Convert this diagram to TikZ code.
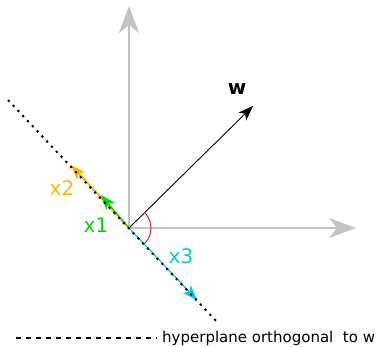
\documentclass[tikz,border=0pt]{standalone}
\usepackage{fontspec}
\setmainfont{DejaVu Sans}
\usetikzlibrary{arrows.meta}
\definecolor{axisgray}{RGB}{195,195,195}
\definecolor{xorange}{RGB}{250,185,0}
\definecolor{xgreen}{RGB}{0,215,0}
\definecolor{xcyan}{RGB}{0,200,230}
\definecolor{arcred}{RGB}{210,40,40}
\tikzset{
  axis/.style={draw=axisgray,fill=axisgray!80!gray,line width=2pt,-{Stealth[length=27pt,width=20pt,inset=8pt]}},
  hyper/.style={draw=black,line width=2pt,dash pattern=on 2.2pt off 4.8pt},
  vec/.style={-{Stealth[length=15pt,width=11pt,inset=4pt]}},
  lbl/.style={inner sep=0pt,font=\fontsize{20}{20}\selectfont}
}
\begin{document}
\begin{tikzpicture}[x=1pt,y=-1pt]
\useasboundingbox (0,0) rectangle (378,347);
\coordinate (O) at (129,228);
\coordinate (ytop) at (129,6);
\coordinate (xend) at (356,228);
\coordinate (wend) at (253,106);
\coordinate (hA) at (8,100);
\coordinate (hB) at (218,323);
\coordinate (x1e) at (101,195);
\coordinate (x2e) at (71,165);
\coordinate (x3e) at (197,300);
\draw[axis] (O) -- (ytop);
\draw[axis] (O) -- (xend);
\draw[vec,line width=0.9pt] (O) -- (wend);
\node[font=\fontsize{20}{20}\selectfont\bfseries] (wl) at (237,89) {w};
\draw[draw=arcred,line width=1pt] (O) ++(-46:22) arc[start angle=-46,end angle=45,radius=22];
\draw[vec,draw=xorange,fill=xorange,line width=2pt] (O) -- (x2e);
\draw[vec,draw=xgreen,fill=xgreen,line width=1.2pt] (O) -- (x1e);
\draw[vec,draw=xcyan,fill=xcyan,line width=1.2pt] (O) -- (x3e);
\draw[hyper] (hA) -- (hB);
\node[lbl,text=xorange] (l2) at (62,188) {x2};
\node[lbl,text=xgreen] (l1) at (96,225) {x1};
\node[lbl,text=xcyan] (l3) at (181,256) {x3};
\coordinate (legA) at (16,338);
\coordinate (legB) at (157,338);
\draw[draw=black,line width=1.5pt,dash pattern=on 4.5pt off 5.5pt] (legA) -- (legB);
\node[anchor=west,inner sep=0pt,font=\fontsize{15}{15}\selectfont] (legt) at (162,338) {hyperplane orthogonal\ \ to w};
\end{tikzpicture}
\end{document}
